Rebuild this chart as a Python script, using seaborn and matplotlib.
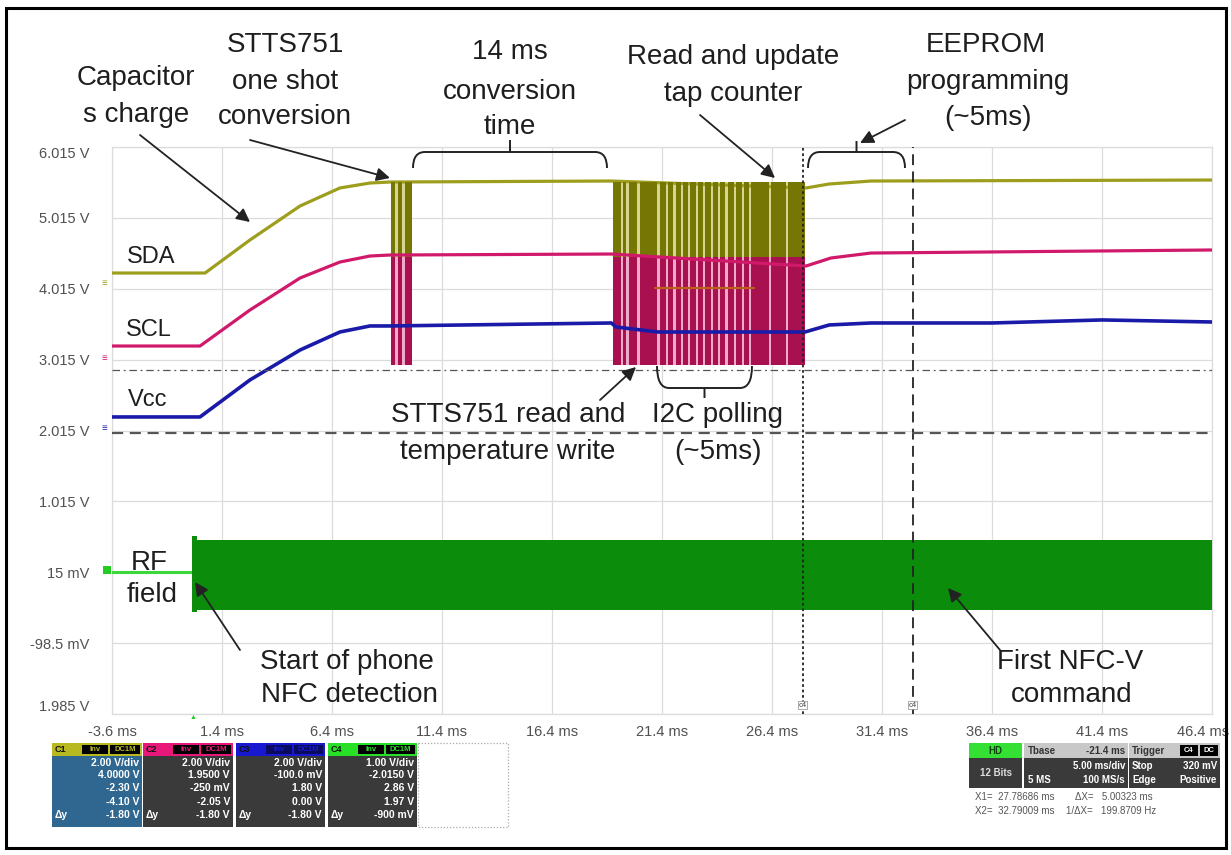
import numpy as np
import pandas as pd
import matplotlib
matplotlib.use("Agg")
import matplotlib.pyplot as plt
import matplotlib.transforms as mtransforms
from matplotlib.patches import Rectangle, PathPatch
from matplotlib.path import Path
import seaborn as sns

# ---------------- data ----------------
time_ticks = [-3.6, 1.4, 6.4, 11.4, 16.4, 21.4, 26.4, 31.4, 36.4, 41.4, 46.4]
time_tick_labels = ["-3.6 ms", "1.4 ms", "6.4 ms", "11.4 ms", "16.4 ms", "21.4 ms",
                    "26.4 ms", "31.4 ms", "36.4 ms", "41.4 ms", "46.4 ms"]
volt_ticks = [6.015, 5.015, 4.015, 3.015, 2.015, 1.015, 0.015, -0.985, -1.985]
volt_tick_labels = ["6.015 V", "5.015 V", "4.015 V", "3.015 V", "2.015 V",
                    "1.015 V", "15 mV", "-98.5 mV", "1.985 V"]

sda_t = [-3.6, 0.63, 2.67, 4.95, 6.76, 8.13, 9.04, 19.1, 27.95, 29.0, 30.9, 46.4]
sda_v = [4.237, 4.237, 4.703, 5.183, 5.437, 5.507, 5.521, 5.535, 5.437, 5.493, 5.535, 5.549]

scl_t = [-3.6, 0.4, 2.67, 4.95, 6.76, 8.13, 9.04, 19.1, 27.95, 29.08, 30.9, 46.4]
scl_v = [3.207, 3.207, 3.715, 4.167, 4.392, 4.477, 4.491, 4.505, 4.336, 4.449, 4.519, 4.562]

vcc_t = [-3.6, 0.4, 2.67, 4.95, 6.76, 8.13, 9.04, 19.1, 19.3, 21.2, 27.9, 29.0, 30.9, 36.4, 41.4, 46.4]
vcc_v = [2.206, 2.206, 2.728, 3.151, 3.405, 3.490, 3.490, 3.532, 3.476, 3.405, 3.405, 3.504, 3.532, 3.532, 3.575, 3.546]

rf_idle_v = 0.015
rf_on_ms = 0.05
rf_band_top = 0.466
rf_band_bottom = -0.521
rf_spike_window = [0.05, 0.25]
rf_spike_top = 0.52
rf_spike_bottom = -0.55

i2c_low = 2.94
sda_burst_high = 5.52
scl_burst_high = 4.47
sda_mid_level = 4.025
sda_mid_span = [21.1, 25.6]

oneshot_window = [9.07, 10.02]
oneshot_gaps = [9.34, 9.64]
burst_window = [19.17, 27.9]
burst_gaps = [19.58, 19.85, 20.35, 21.26, 21.63, 21.95, 22.31, 22.63, 22.99,
              23.31, 23.67, 23.99, 24.35, 24.72, 25.08, 25.40, 26.31, 27.08]
gap_width = 0.13

cursor_x1 = 27.78686
cursor_x2 = 32.79009
cursor_y1 = 2.869
cursor_y2 = 1.98

# ---------------- style ----------------
sns.set_theme(style="white")
plt.rcParams['font.family'] = ['Liberation Sans Narrow', 'Liberation Sans', 'DejaVu Sans']

W, H = 1231, 855
fig = plt.figure(figsize=(W / 100, H / 100), dpi=100)
fig.patch.set_facecolor("white")
ax = fig.add_axes([112 / W, 1 - 714 / H, 1100 / W, 567 / H])
px = mtransforms.Affine2D().scale(1 / W, -1 / H).translate(0, 1) + fig.transFigure

C_SDA, C_SDA_BAR, C_SDA_PALE = "#9e9e1e", "#767604", "#d6d690"
C_SCL, C_SCL_BAR, C_SCL_PALE = "#d1196c", "#a8104f", "#eeaac8"
C_VCC = "#1a1aa8"
C_RF, C_RF_IDLE = "#0b8c0b", "#3ad83a"

ax.set_xlim(time_ticks[0], time_ticks[-1])
ax.set_ylim(volt_ticks[-1], volt_ticks[0])
ax.set_xticks(time_ticks)
ax.set_xticklabels(time_tick_labels)
ax.set_yticks(volt_ticks)
ax.set_yticklabels(volt_tick_labels)
ax.grid(True, color="#dcdcdc", lw=0.9)
for s in ax.spines.values():
    s.set_color("#dcdcdc")
    s.set_linewidth(0.9)
ax.tick_params(axis="both", length=0, labelsize=10.5, labelcolor="#505050")
ax.tick_params(axis="x", pad=8)
ax.tick_params(axis="y", pad=16)
ylabs = ax.get_yticklabels()
ylabs[0].set_verticalalignment("top")
ylabs[-1].set_verticalalignment("bottom")
xlabs = ax.get_xticklabels()
xlabs[-1].set_transform(xlabs[-1].get_transform() +
                        mtransforms.ScaledTranslation(-9 / 100, 0, fig.dpi_scale_trans))


def bars(window, gaps, gw):
    edges = [window[0]]
    for g in gaps:
        edges += [g - gw / 2, g + gw / 2]
    edges.append(window[1])
    return list(zip(edges[0::2], edges[1::2]))


# pale backgrounds of the burst windows
for win in (oneshot_window, burst_window):
    ax.fill_between(win, i2c_low, sda_burst_high, color=C_SDA_PALE, lw=0, zorder=2)
    ax.fill_between(win, i2c_low, scl_burst_high, color=C_SCL_PALE, lw=0, zorder=4)

sns.lineplot(x=sda_t, y=sda_v, ax=ax, color=C_SDA, lw=2.3, sort=False, estimator=None, zorder=3)
for win, gaps in ((oneshot_window, oneshot_gaps), (burst_window, burst_gaps)):
    for s, e in bars(win, gaps, gap_width):
        ax.fill_between([s, e], i2c_low, sda_burst_high, color=C_SDA_BAR, lw=0, zorder=3.5)
for win, gaps in ((oneshot_window, oneshot_gaps), (burst_window, burst_gaps)):
    for s, e in bars(win, gaps, gap_width):
        ax.fill_between([s, e], i2c_low, scl_burst_high, color=C_SCL_BAR, lw=0, zorder=5)
ax.plot(sda_mid_span, [sda_mid_level, sda_mid_level], color="#b8601e", lw=1.6, zorder=5.2)
sns.lineplot(x=scl_t, y=scl_v, ax=ax, color=C_SCL, lw=2.3, sort=False, estimator=None, zorder=5.5)
sns.lineplot(x=vcc_t, y=vcc_v, ax=ax, color=C_VCC, lw=2.6, sort=False, estimator=None, zorder=6)

# RF field
ax.plot([time_ticks[0], rf_on_ms], [rf_idle_v, rf_idle_v], color=C_RF_IDLE, lw=2.2, zorder=6)
ax.fill_between([rf_on_ms, time_ticks[-1]], rf_band_bottom, rf_band_top, color=C_RF, lw=0, zorder=6)
ax.fill_between(rf_spike_window, rf_spike_bottom, rf_spike_top, color=C_RF, lw=0, zorder=6)

# cursors
ax.axvline(cursor_x1, color="#222222", ls=(0, (1.5, 1.5)), lw=1.3, zorder=7)
ax.axvline(cursor_x2, color="#222222", ls=(0, (6, 3.5)), lw=1.3, zorder=7)
ax.axhline(cursor_y1, color="#555555", ls=(0, (6, 3, 1.5, 3)), lw=0.9, zorder=7)
ax.axhline(cursor_y2, color="#555555", ls=(0, (5, 3)), lw=1.6, zorder=7)
for cx in (cursor_x1, cursor_x2):
    ax.text(cx, -1.86, "c4", fontsize=5.5, color="#444", ha="center", va="center", zorder=8,
            bbox=dict(boxstyle="square,pad=0.1", fc="white", ec="#888", lw=0.5))

# ---------------- annotations ----------------
TXT = "#1e1e1e"
FS = 20


def label(x, y, s, fs=FS):
    fig.text(x, y, s, transform=px, ha="center", va="center", fontsize=fs, color=TXT)


label(136, 78, "Capacitor")
label(136, 115, "s charge")
label(285, 45, "STTS751")
label(285, 82, "one shot")
label(285, 117, "conversion")
label(510, 52, "14 ms")
label(510, 92, "conversion")
label(510, 127, "time")
label(733, 57, "Read and update")
label(733, 94, "tap counter")
label(986, 45, "EEPROM")
label(988, 82, "programming")
label(988, 118, "(~5ms)")
label(151, 257, "SDA", fs=17)
label(149, 330, "SCL", fs=17)
label(148, 400, "Vcc", fs=17)
label(508, 415, "STTS751 read and")
label(508, 452, "temperature write")
label(718, 415, "I2C polling")
label(718, 452, "(~5ms)")
label(149, 563, "RF")
label(152, 595, "field")
label(347, 662, "Start of phone")
label(349, 695, "NFC detection")
label(1070, 662, "First NFC-V")
label(1072, 695, "command")


def arrow(x1, y1, x2, y2):
    ax.annotate("", xy=(x2, y2), xycoords=px, xytext=(x1, y1), textcoords=px,
                arrowprops=dict(arrowstyle="-|>", color="#222222", lw=1.3,
                                mutation_scale=20, shrinkA=0, shrinkB=0),
                annotation_clip=False, zorder=10)


arrow(140, 135, 250, 222)
arrow(250, 140, 390, 178)
arrow(700, 115, 775, 178)
arrow(905, 120, 860, 143)
arrow(600, 400, 636, 367)
arrow(240, 650, 195, 582)
arrow(1000, 650, 948, 588)


def brace(x0, x1, ybar, yend, ytick):
    xc = (x0 + x1) / 2
    verts = [(x0, yend), (x0, ybar), (x0 + 12, ybar), (x1 - 12, ybar), (x1, ybar), (x1, yend),
             (xc, ybar), (xc, ytick)]
    codes = [Path.MOVETO, Path.CURVE3, Path.CURVE3, Path.LINETO, Path.CURVE3, Path.CURVE3,
             Path.MOVETO, Path.LINETO]
    fig.add_artist(PathPatch(Path(verts, codes), transform=px, fc="none", ec="#222222", lw=1.4))


brace(413, 607, 152, 168, 140)
brace(808, 905, 152, 168, 141)
brace(657, 752, 388, 366, 398)

# channel markers on the left of the grid
for yy, cc in ((283, C_SDA), (358, C_SCL), (428, C_VCC)):
    fig.text(104, yy, "≡", transform=px, fontsize=7, color=cc, ha="center", va="center")
fig.add_artist(Rectangle((103, 566), 8, 8, transform=px, fc="#22cc22", ec="none"))
fig.text(193, 717, "▲", transform=px, fontsize=5, color="#22cc22", ha="center", va="center")

# ---------------- bottom instrument panels ----------------
PF = ['Liberation Sans', 'DejaVu Sans']


def rect(x0, y0, x1, y1, fc, ec="none", lw=0.0, ls="-"):
    fig.add_artist(Rectangle((x0, y0), x1 - x0, y1 - y0, transform=px, fc=fc, ec=ec, lw=lw, ls=ls))


def ptext(x, y, s, color="white", ha="right", fs=7.5, weight="bold"):
    fig.text(x, y, s, transform=px, fontsize=fs, color=color, ha=ha, va="center",
             family=PF, fontweight=weight)


channels = [
    ("C1", 52, 142, "#b8b820", "#2f6790", "#b8b820",
     ["2.00 V/div", "4.0000 V", "-2.30 V", "-4.10 V", "-1.80 V"]),
    ("C2", 143, 233, "#e8187a", "#3a3a3a", "#e8187a",
     ["2.00 V/div", "1.9500 V", "-250 mV", "-2.05 V", "-1.80 V"]),
    ("C3", 236, 325, "#1818d0", "#3a3a3a", "#1818d0",
     ["2.00 V/div", "-100.0 mV", "1.80 V", "0.00 V", "-1.80 V"]),
    ("C4", 328, 417, "#28e028", "#3a3a3a", "#28e028",
     ["1.00 V/div", "-2.0150 V", "2.86 V", "1.97 V", "-900 mV"]),
]
row_y = [763, 775, 788, 802, 815]
for name, x0, x1, hc, bc, tc, rows in channels:
    rect(x0, 743, x1, 756, hc)
    rect(x0, 756, x1, 827, bc)
    ptext(x0 + 3, 749.5, name, color="#111111", ha="left", fs=6.5)
    hdr_bg = "#000000" if name != "C3" else "#0a0a60"
    rect(x0 + 30, 745, x0 + 56, 754, hdr_bg)
    rect(x0 + 58, 745, x1 - 2, 754, hdr_bg)
    ptext(x0 + 43, 749.5, "Inv", color=tc, ha="center", fs=5.5)
    ptext(x0 + 58 + (x1 - 2 - x0 - 58) / 2, 749.5, "DC1M", color=tc, ha="center", fs=5.5)
    for yy, s in zip(row_y, rows):
        ptext(x1 - 3, yy, s)
    ptext(x0 + 3, row_y[-1], "Δy", ha="left")
rect(418, 743, 508, 827, "none", ec="#aaaaaa", lw=0.9, ls=(0, (1, 1.5)))

# right panel
rect(969, 743, 1022, 758, "#33e033")
rect(969, 758, 1022, 788, "#3a3a3a")
ptext(995.5, 750.5, "HD", color="#114411", ha="center", fs=7)
ptext(995.5, 773, "12 Bits", color="#dddddd", ha="center", fs=7)
rect(1024, 743, 1128, 758, "#c8c8c8")
rect(1024, 758, 1128, 788, "#3a3a3a")
ptext(1028, 750.5, "Tbase", color="#333333", ha="left", fs=7)
ptext(1125, 750.5, "-21.4 ms", color="#333333", fs=7)
ptext(1125, 766, "5.00 ms/div", fs=7)
ptext(1028, 780, "5 MS", ha="left", fs=7)
ptext(1125, 780, "100 MS/s", fs=7)
rect(1129, 743, 1220, 758, "#c8c8c8")
rect(1129, 758, 1220, 788, "#3a3a3a")
ptext(1132, 750.5, "Trigger", color="#333333", ha="left", fs=7)
rect(1180, 745, 1198, 756, "#000000")
rect(1200, 745, 1218, 756, "#000000")
ptext(1189, 750.5, "C4", ha="center", fs=5.5)
ptext(1209, 750.5, "DC", ha="center", fs=5.5)
ptext(1132, 766, "Stop", ha="left", fs=7)
ptext(1217, 766, "320 mV", fs=7)
ptext(1132, 780, "Edge", ha="left", fs=7)
ptext(1217, 780, "Positive", fs=7)
ptext(975, 797, "X1=  27.78686 ms", color="#555555", ha="left", fs=7, weight="normal")
ptext(1075, 797, "ΔX=   5.00323 ms", color="#555555", ha="left", fs=7, weight="normal")
ptext(975, 811, "X2=  32.79009 ms", color="#555555", ha="left", fs=7, weight="normal")
ptext(1066, 811, "1/ΔX=   199.8709 Hz", color="#555555", ha="left", fs=7, weight="normal")

# outer frame
rect(6, 8, 1226, 848, "none", ec="black", lw=2.2)

fig.savefig("out.png", dpi=100)
